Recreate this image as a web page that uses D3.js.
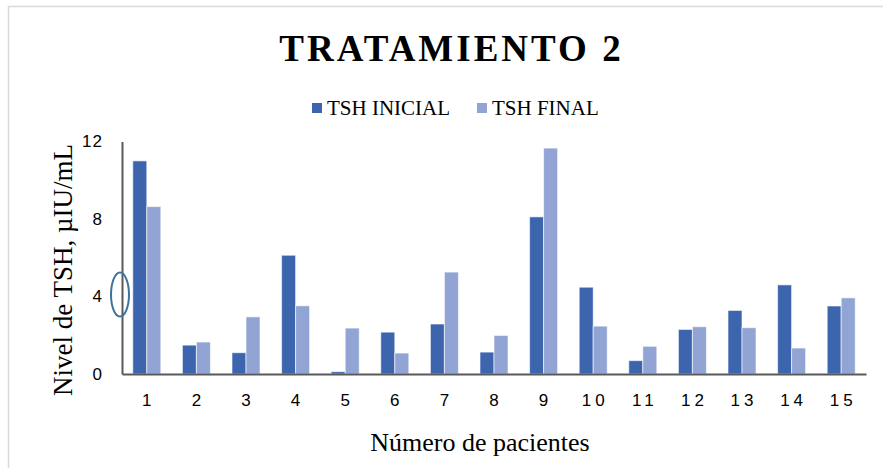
<!DOCTYPE html>
<html>
<head>
<meta charset="utf-8">
<style>
html, body { margin: 0; padding: 0; background: #fff; }
svg { display: block; }
.serif { font-family: "Liberation Serif", "Times New Roman", serif; fill: #000; }
.lbl { font-family: "Liberation Sans", Arial, sans-serif; font-size: 17px; fill: #000; }
</style>
</head>
<body>
<script src="https://cdn.jsdelivr.net/npm/d3@7"></script>
<script>
var width = 883
var height = 468

var pacientes = ['1', '2', '3', '4', '5', '6', '7', '8', '9', '10', '11', '12', '13', '14', '15']
var series = ['TSH INICIAL', 'TSH FINAL']
var tshInicial = [11.0, 1.49, 1.1, 6.13, 0.12, 2.16, 2.58, 1.13, 8.11, 4.48, 0.69, 2.3, 3.28, 4.6, 3.51]
var tshFinal = [8.64, 1.65, 2.95, 3.52, 2.37, 1.08, 5.26, 1.99, 11.66, 2.47, 1.43, 2.44, 2.39, 1.34, 3.93]
var yTicks = [0, 4, 8, 12]
var colors = ['#3d65ae', '#91a4d4']

var plotLeft = 122, plotRight = 866, plotTop = 141.5, plotBottom = 374

var svg = d3.select('body').append('svg')
    .attr('width', width)
    .attr('height', height)

// chart frame (only top and left edges are visible)
svg.append('path')
    .attr('d', 'M8.5,' + height + 'V6.5H' + width)
    .attr('fill', 'none')
    .attr('stroke', '#d9d9d9')
    .attr('stroke-width', 1.5)

svg.append('text')
    .attr('class', 'serif')
    .attr('x', 451.5)
    .attr('y', 61)
    .attr('text-anchor', 'middle')
    .style('font-size', '37px')
    .style('font-weight', 'bold')
    .style('letter-spacing', '3px')
    .text('TRATAMIENTO 2')

// legend
var legendX = [312, 477]
var legend = svg.selectAll('g.legend')
    .data(series)
    .enter().append('g')
    .attr('class', 'legend')
    .attr('transform', function (d, i) { return 'translate(' + legendX[i] + ',103)' })
legend.append('rect')
    .attr('width', 10)
    .attr('height', 10)
    .attr('fill', function (d, i) { return colors[i] })
legend.append('text')
    .attr('class', 'serif')
    .attr('x', 15)
    .attr('y', 12)
    .attr('font-family', '"Liberation Serif", serif')
    .style('font-size', '21px')
    .text(function (d) { return d })

var x = d3.scaleBand()
    .domain(pacientes)
    .range([plotLeft, plotRight])
    .paddingInner(0.435)
    .paddingOuter(0.2175)

var xs = d3.scaleBand()
    .domain(series)
    .range([0, x.bandwidth()])

var y = d3.scaleLinear()
    .domain([0, 12])
    .range([plotBottom, plotTop])

var rows = pacientes.map(function (p, i) {
    return { p: p, values: [tshInicial[i], tshFinal[i]] }
})

var groups = svg.selectAll('g.grupo')
    .data(rows)
    .enter().append('g')
    .attr('class', 'grupo')
    .attr('transform', function (d) { return 'translate(' + x(d.p) + ',0)' })

groups.selectAll('rect')
    .data(function (d) { return d.values.map(function (v, i) { return { s: series[i], v: v, i: i } }) })
    .enter().append('rect')
    .attr('x', function (d) { return xs(d.s) })
    .attr('y', function (d) { return y(d.v) })
    .attr('width', xs.bandwidth())
    .attr('height', function (d) { return y(0) - y(d.v) })
    .attr('fill', function (d) { return colors[d.i] })
    .attr('stroke', 'rgba(255,255,255,0.6)')
    .attr('stroke-width', 1)

// axes
var yAxis = svg.append('g')
    .attr('transform', 'translate(' + plotLeft + ',0)')
    .call(d3.axisLeft(y).tickValues(yTicks).tickSize(0).tickPadding(19))
yAxis.select('.domain').attr('stroke', '#595959').attr('stroke-width', 2)
yAxis.selectAll('text').attr('class', 'lbl').attr('fill', '#000').style('letter-spacing', '1px')

var xAxis = svg.append('g')
    .attr('transform', 'translate(0,' + plotBottom + ')')
    .call(d3.axisBottom(x).tickSize(0).tickPadding(20))
xAxis.select('.domain').attr('stroke', '#595959').attr('stroke-width', 2)
xAxis.selectAll('text').attr('class', 'lbl').attr('fill', '#000')
    .style('letter-spacing', '4px').attr('dx', '2px')

// axis titles
svg.append('text')
    .attr('class', 'serif')
    .attr('transform', 'translate(72,270) rotate(-90)')
    .attr('text-anchor', 'middle')
    .style('font-size', '27px')
    .text('Nivel de TSH, µIU/mL')

svg.append('text')
    .attr('class', 'serif')
    .attr('x', 480)
    .attr('y', 451)
    .attr('text-anchor', 'middle')
    .style('font-size', '26px')
    .text('Número de pacientes')

// annotation ellipse around the 4 tick
svg.append('ellipse')
    .attr('cx', plotLeft - 2)
    .attr('cy', y(4.1))
    .attr('rx', 9)
    .attr('ry', 22)
    .attr('fill', 'none')
    .attr('stroke', '#41719c')
    .attr('stroke-width', 2)
</script>
</body>
</html>
